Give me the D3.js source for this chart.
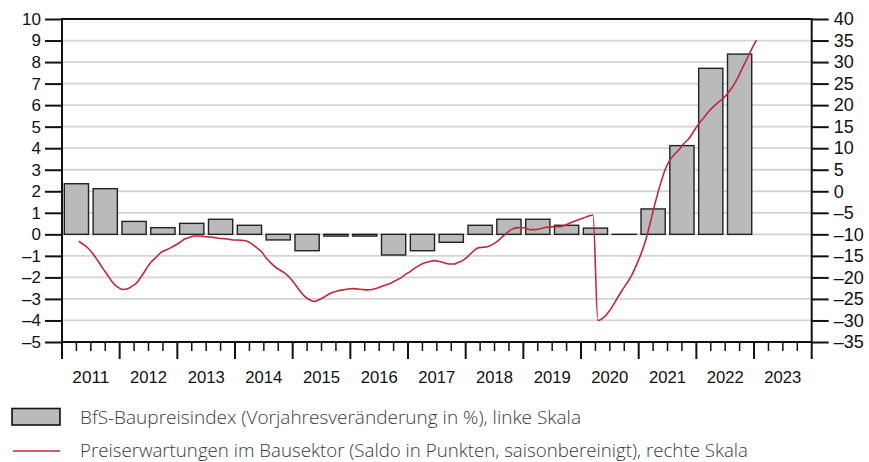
<!DOCTYPE html>
<html>
<head>
<meta charset="utf-8">
<script src="https://cdn.jsdelivr.net/npm/d3@7"></script>
<style>
  body { margin: 0; background: #fff; }
  svg { display: block; font-family: "Liberation Sans", Arial, sans-serif; }
</style>
</head>
<body>
<div id="chart"></div>
<script>
// BfS-Baupreisindex, Vorjahresveraenderung in %, halbjaehrlich (linke Skala)
const periods = ["2011-H1","2011-H2","2012-H1","2012-H2","2013-H1","2013-H2","2014-H1","2014-H2",
  "2015-H1","2015-H2","2016-H1","2016-H2","2017-H1","2017-H2","2018-H1","2018-H2",
  "2019-H1","2019-H2","2020-H1","2020-H2","2021-H1","2021-H2","2022-H1","2022-H2"];
const baupreis = [2.35, 2.12, 0.6, 0.31, 0.51, 0.7, 0.42, -0.26,
  -0.76, -0.08, -0.08, -0.96, -0.76, -0.37, 0.42, 0.7,
  0.7, 0.42, 0.29, 0.0, 1.18, 4.12, 7.71, 8.37];

// Preiserwartungen im Bausektor, monatlich ab April 2011 (rechte Skala)
const firstMonth = "2011-04";
const erwartungen = [
  -11.6, -12.4, -13.3, -14.6, -16.2, -17.9, -19.5, -21.1, -22.2,
  -22.8, -22.7, -22.1, -21.3, -19.8, -18.1, -16.5, -15.4, -14.3, -13.7, -13.2, -12.6,
  -11.9, -11.1, -10.7, -10.4, -10.4, -10.5, -10.6, -10.7, -10.9, -11.0, -11.1, -11.3,
  -11.3, -11.4, -11.6, -12.2, -13.1, -14.0, -15.5, -16.7, -17.7, -18.4, -19.1, -20.2,
  -21.6, -23.1, -24.4, -25.2, -25.6, -25.2, -24.6, -23.9, -23.4, -23.1, -22.9, -22.7,
  -22.6, -22.7, -22.8, -22.9, -22.8, -22.5, -22.1, -21.7, -21.3, -20.7, -20.1, -19.3,
  -18.6, -17.8, -17.1, -16.6, -16.3, -16.1, -16.3, -16.6, -16.9, -16.9, -16.5, -16.0,
  -15.1, -14.0, -13.2, -13.0, -12.9, -12.4, -11.7, -10.7, -9.7, -8.9, -8.5, -8.4,
  -8.6, -8.9, -8.9, -8.7, -8.4, -8.3, -8.2, -8.2, -8.0, -7.5, -7.0, -6.6,
  -6.2, -5.8, -5.5, -30.0, -29.5, -28.4, -26.8, -24.9, -23.1, -21.4, -19.6, -17.2,
  -14.5, -11.2, -6.9, -2.4, 1.6, 5.0, 7.3, 8.6, 9.8, 11.2, 12.3, 14.0,
  15.7, 17.0, 18.4, 19.6, 20.6, 21.5, 22.7, 24.2, 26.1, 28.4, 30.7, 33.0,
  35.1
];

const years = [2011, 2012, 2013, 2014, 2015, 2016, 2017, 2018, 2019, 2020, 2021, 2022, 2023];
const leftTicks = [10, 9, 8, 7, 6, 5, 4, 3, 2, 1, 0, -1, -2, -3, -4, -5];
const rightTicks = [40, 35, 30, 25, 20, 15, 10, 5, 0, -5, -10, -15, -20, -25, -30, -35];

const legendLabels = [
  "BfS-Baupreisindex (Vorjahresveränderung in %), linke Skala",
  "Preiserwartungen im Bausektor (Saldo in Punkten, saisonbereinigt), rechte Skala"
];

const W = 869, H = 462;
const m = { left: 62, right: 811.7, top: 19, bottom: 342 };
const barFill = "#b9babc", lineColor = "#c0283a", gridColor = "#d4d4d4";

const svg = d3.select("#chart").append("svg")
  .attr("width", W).attr("height", H);

const x = d3.scaleLinear().domain([2011, 2024]).range([m.left, m.right]);
const yL = d3.scaleLinear().domain([-5, 10]).range([m.bottom, m.top]);
const yR = d3.scaleLinear().domain([-35, 40]).range([m.bottom, m.top]);

const minus = v => String(v).replace("-", "\u2013");

// grid
svg.append("g").selectAll("line")
  .data(leftTicks.filter(d => d > -5 && d < 10))
  .enter().append("line")
  .attr("x1", m.left).attr("x2", m.right)
  .attr("y1", d => yL(d)).attr("y2", d => yL(d))
  .attr("stroke", gridColor).attr("stroke-width", 1.8);

// bars
const half = 0.5, gap = 0.04;
const periodStart = p => +p.slice(0, 4) + (p.endsWith("H2") ? 0.5 : 0);
svg.append("g").selectAll("rect")
  .data(baupreis)
  .enter().append("rect")
  .attr("x", (d, i) => x(periodStart(periods[i]) + gap))
  .attr("width", x(2011 + half - gap) - x(2011 + gap))
  .attr("y", d => yL(Math.max(0, d)))
  .attr("height", d => Math.max(0.01, Math.abs(yL(d) - yL(0))))
  .attr("fill", barFill)
  .attr("stroke", "#222")
  .attr("stroke-width", 1.4);

// line
const [fy, fm] = firstMonth.split("-").map(Number);
const lineData = erwartungen.map((v, i) => ({ t: fy + (fm - 1 + i + 0.5) / 12, v: v }));
svg.append("path")
  .datum(lineData)
  .attr("fill", "none")
  .attr("stroke", lineColor)
  .attr("stroke-width", 1.6)
  .attr("d", d3.line().x(d => x(d.t)).y(d => yR(d.v)).curve(d3.curveMonotoneX));

// frame
svg.append("rect").attr("x", m.left).attr("y", m.top)
  .attr("width", m.right - m.left).attr("height", m.bottom - m.top)
  .attr("fill", "none").attr("stroke", "#111").attr("stroke-width", 2);

// left axis
const gl = svg.append("g").attr("transform", `translate(${m.left},0)`)
  .call(d3.axisLeft(yL).tickValues(leftTicks).tickSize(17).tickPadding(4).tickFormat(minus));
gl.select(".domain").remove();
gl.selectAll(".tick line").attr("stroke", "#111").attr("stroke-width", 2);
gl.selectAll(".tick text").attr("font-size", 17).attr("fill", "#111")
  .attr("font-family", "Liberation Sans, Arial, sans-serif");

// right axis
const gr = svg.append("g").attr("transform", `translate(${m.right},0)`)
  .call(d3.axisRight(yR).tickValues(rightTicks).tickSize(17).tickPadding(5).tickFormat(minus));
gr.select(".domain").remove();
gr.selectAll(".tick line").attr("stroke", "#111").attr("stroke-width", 2);
gr.selectAll(".tick text").attr("font-size", 18).attr("fill", "#111")
  .attr("font-family", "Liberation Sans, Arial, sans-serif");

// bottom axis: quarter ticks, year ticks, year labels
const quarters = d3.range(2011, 2024.01, 0.25);
svg.append("g").selectAll("line")
  .data(quarters)
  .enter().append("line")
  .attr("x1", d => x(d)).attr("x2", d => x(d))
  .attr("y1", m.bottom)
  .attr("y2", d => Number.isInteger(d) ? m.bottom + 17 : m.bottom + 9)
  .attr("stroke", "#111").attr("stroke-width", d => Number.isInteger(d) ? 2 : 1.5);

svg.append("g").selectAll("text")
  .data(years)
  .enter().append("text")
  .attr("x", d => x(d + 0.5))
  .attr("y", 383)
  .attr("text-anchor", "middle")
  .attr("font-size", 17)
  .attr("fill", "#111")
  .attr("textLength", 37)
  .attr("lengthAdjust", "spacingAndGlyphs")
  .text(d => d);

// legend
const lg = svg.append("g");
lg.append("rect").attr("x", 12).attr("y", 408.5).attr("width", 48).attr("height", 16.5)
  .attr("fill", barFill).attr("stroke", "#111").attr("stroke-width", 1.6);
lg.append("line").attr("x1", 13).attr("x2", 60).attr("y1", 451).attr("y2", 451)
  .attr("stroke", lineColor).attr("stroke-width", 1.6);
lg.selectAll("text")
  .data(legendLabels)
  .enter().append("text")
  .attr("x", 80)
  .attr("y", (d, i) => 423.5 + i * 33.5)
  .attr("font-family", "'Open Sans', 'Noto Sans', sans-serif")
  .attr("font-weight", 300)
  .attr("font-size", 18.5)
  .attr("fill", "#3a3a3a")
  .attr("textLength", (d, i) => i === 0 ? 501 : 668)
  .attr("lengthAdjust", "spacingAndGlyphs")
  .text(d => d);
</script>
</body>
</html>
